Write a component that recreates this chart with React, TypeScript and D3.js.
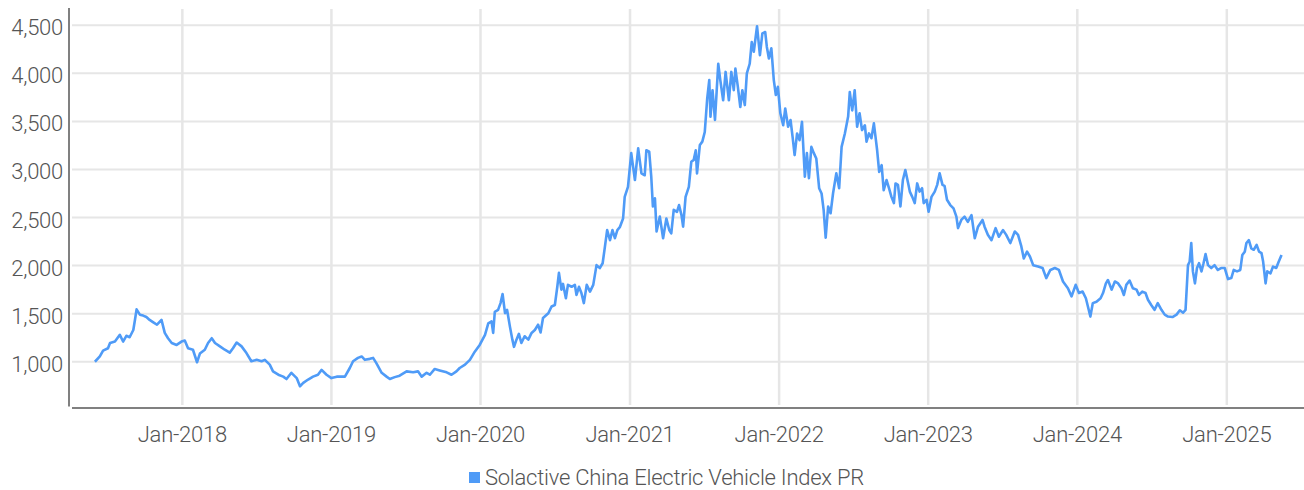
import * as d3 from "d3";

// index levels, roughly every week or two
const dates = [
  "2017-06-01", "2017-06-13", "2017-06-21", "2017-07-03", "2017-07-08", "2017-07-20", "2017-08-01", "2017-08-09",
  "2017-08-17", "2017-08-25", "2017-09-03", "2017-09-07", "2017-09-11", "2017-09-19", "2017-09-27", "2017-10-05",
  "2017-10-13", "2017-10-22", "2017-10-31", "2017-11-11", "2017-11-19", "2017-11-27", "2017-12-06", "2017-12-18",
  "2017-12-30",
  "2018-01-07", "2018-01-15", "2018-01-27", "2018-02-06", "2018-02-13", "2018-02-25", "2018-03-05", "2018-03-14",
  "2018-03-22", "2018-04-03", "2018-04-15", "2018-04-27", "2018-05-05", "2018-05-14", "2018-05-26", "2018-06-07",
  "2018-06-19", "2018-07-02", "2018-07-14", "2018-07-22", "2018-08-03", "2018-08-11", "2018-08-24", "2018-09-05",
  "2018-09-13", "2018-09-25", "2018-10-08", "2018-10-16", "2018-10-24", "2018-11-05", "2018-11-17", "2018-11-29",
  "2018-12-08", "2018-12-20",
  "2019-01-01", "2019-01-14", "2019-02-03", "2019-02-15", "2019-02-23", "2019-03-07", "2019-03-16", "2019-03-24",
  "2019-04-05", "2019-04-13", "2019-04-21", "2019-05-04", "2019-05-16", "2019-05-24", "2019-06-05", "2019-06-17",
  "2019-07-04", "2019-07-20", "2019-08-01", "2019-08-10", "2019-08-22", "2019-08-30", "2019-09-11", "2019-09-23",
  "2019-10-10", "2019-10-22", "2019-11-03", "2019-11-11", "2019-11-24", "2019-12-06", "2019-12-18", "2019-12-30",
  "2020-01-12", "2020-01-20", "2020-01-28", "2020-02-01", "2020-02-05", "2020-02-13", "2020-02-19", "2020-02-24",
  "2020-03-01", "2020-03-06", "2020-03-13", "2020-03-19", "2020-03-23", "2020-03-29", "2020-04-04", "2020-04-10",
  "2020-04-18", "2020-04-27", "2020-05-05", "2020-05-13", "2020-05-21", "2020-05-27", "2020-06-02", "2020-06-15",
  "2020-06-23", "2020-07-01", "2020-07-07", "2020-07-11", "2020-07-17", "2020-07-21", "2020-07-28", "2020-08-02",
  "2020-08-11", "2020-08-19", "2020-08-23", "2020-08-29", "2020-09-04", "2020-09-10", "2020-09-17", "2020-09-25",
  "2020-10-03", "2020-10-11", "2020-10-19", "2020-10-26", "2020-10-31", "2020-11-06", "2020-11-13", "2020-11-19",
  "2020-11-25", "2020-12-01", "2020-12-07", "2020-12-15", "2020-12-19", "2020-12-27",
  "2021-01-04", "2021-01-13", "2021-01-21", "2021-01-29", "2021-02-06", "2021-02-10", "2021-02-17", "2021-02-22",
  "2021-02-26", "2021-03-03", "2021-03-07", "2021-03-15", "2021-03-23", "2021-03-31", "2021-04-07", "2021-04-12",
  "2021-04-18", "2021-04-26", "2021-05-01", "2021-05-07", "2021-05-11", "2021-05-17", "2021-05-25", "2021-05-31",
  "2021-06-06", "2021-06-11", "2021-06-14", "2021-06-21", "2021-06-27", "2021-07-03", "2021-07-09", "2021-07-14",
  "2021-07-17", "2021-07-22", "2021-07-28", "2021-08-01", "2021-08-05", "2021-08-10", "2021-08-17", "2021-08-23",
  "2021-08-31", "2021-09-06", "2021-09-12", "2021-09-16", "2021-09-22", "2021-09-28", "2021-10-03", "2021-10-09",
  "2021-10-14", "2021-10-21", "2021-10-26", "2021-10-31", "2021-11-08", "2021-11-15", "2021-11-21", "2021-11-28",
  "2021-12-02", "2021-12-07", "2021-12-13", "2021-12-19", "2021-12-24", "2021-12-29",
  "2022-01-04", "2022-01-11", "2022-01-16", "2022-01-23", "2022-01-29", "2022-02-03", "2022-02-08", "2022-02-14",
  "2022-02-20", "2022-02-26", "2022-03-05", "2022-03-10", "2022-03-15", "2022-03-21", "2022-03-27", "2022-04-02",
  "2022-04-09", "2022-04-15", "2022-04-20", "2022-04-25", "2022-05-01", "2022-05-07", "2022-05-13", "2022-05-21",
  "2022-05-28", "2022-06-03", "2022-06-11", "2022-06-19", "2022-06-23", "2022-06-29", "2022-07-05", "2022-07-11",
  "2022-07-17", "2022-07-23", "2022-07-30", "2022-08-03", "2022-08-09", "2022-08-15", "2022-08-21", "2022-08-26",
  "2022-08-29", "2022-09-03", "2022-09-09", "2022-09-14", "2022-09-21", "2022-09-27", "2022-10-03", "2022-10-09",
  "2022-10-13", "2022-10-19", "2022-10-25", "2022-10-31", "2022-11-06", "2022-11-13", "2022-11-17", "2022-11-23",
  "2022-11-29", "2022-12-05", "2022-12-11", "2022-12-17", "2022-12-21", "2022-12-28",
  "2023-01-02", "2023-01-09", "2023-01-17", "2023-01-23", "2023-01-29", "2023-02-05", "2023-02-10", "2023-02-16",
  "2023-02-24", "2023-03-04", "2023-03-11", "2023-03-15", "2023-03-23", "2023-03-31", "2023-04-08", "2023-04-17",
  "2023-04-25", "2023-05-03", "2023-05-14", "2023-05-19", "2023-05-27", "2023-06-05", "2023-06-15", "2023-06-23",
  "2023-07-03", "2023-07-11", "2023-07-21", "2023-08-01", "2023-08-09", "2023-08-17", "2023-08-23", "2023-08-31",
  "2023-09-07", "2023-09-15", "2023-09-27", "2023-10-08", "2023-10-17", "2023-10-27", "2023-11-07", "2023-11-17",
  "2023-11-27", "2023-12-09", "2023-12-18", "2023-12-28",
  "2024-01-05", "2024-01-14", "2024-01-22", "2024-01-27", "2024-02-02", "2024-02-08", "2024-02-17", "2024-02-27",
  "2024-03-04", "2024-03-11", "2024-03-16", "2024-03-25", "2024-04-02", "2024-04-10", "2024-04-18", "2024-04-24",
  "2024-04-30", "2024-05-08", "2024-05-16", "2024-05-25", "2024-05-31", "2024-06-08", "2024-06-16", "2024-06-22",
  "2024-06-30", "2024-07-08", "2024-07-16", "2024-07-25", "2024-08-02", "2024-08-10", "2024-08-21", "2024-08-31",
  "2024-09-08", "2024-09-16", "2024-09-22", "2024-09-28", "2024-10-02", "2024-10-06", "2024-10-10", "2024-10-15",
  "2024-10-20", "2024-10-25", "2024-10-31", "2024-11-05", "2024-11-10", "2024-11-16", "2024-11-24", "2024-12-02",
  "2024-12-10", "2024-12-18", "2024-12-27",
  "2025-01-04", "2025-01-12", "2025-01-18", "2025-01-26", "2025-02-03", "2025-02-08", "2025-02-14", "2025-02-18",
  "2025-02-24", "2025-03-02", "2025-03-08", "2025-03-15", "2025-03-21", "2025-03-27", "2025-03-31", "2025-04-06",
  "2025-04-10", "2025-04-18", "2025-04-24", "2025-05-02", "2025-05-08", "2025-05-15",
];

const values = [
  1000, 1055, 1115, 1140, 1195, 1210, 1280, 1210, 1270, 1255, 1330, 1435, 1545, 1490, 1480, 1465,
  1435, 1410, 1385, 1435, 1300, 1245, 1195, 1175, 1210,
  1220, 1140, 1125, 995, 1085, 1125, 1195, 1245, 1195, 1160, 1125, 1095, 1140, 1200, 1160, 1090,
  1005, 1020, 1005, 1020, 970, 900, 865, 845, 820, 885, 830, 745, 780, 815, 845, 865, 915, 865,
  830, 845, 845, 935, 1005, 1040, 1055, 1020, 1030, 1040, 985, 885, 845, 820, 840, 855,
  900, 890, 900, 845, 885, 865, 925, 910, 890, 865, 900, 935, 970, 1020, 1105, 1175,
  1280, 1400, 1420, 1300, 1520, 1540, 1610, 1705, 1505, 1540, 1365, 1230, 1155, 1230, 1290, 1195,
  1265, 1230, 1300, 1330, 1385, 1305, 1455, 1505, 1575, 1590, 1780, 1925, 1750, 1810, 1660, 1800,
  1780, 1800, 1695, 1780, 1715, 1610, 1800, 1730, 1800, 2005, 1975, 2025, 2180, 2370, 2265, 2370,
  2285, 2370, 2400, 2490, 2715, 2820,
  3170, 2890, 3220, 2960, 2940, 3200, 3185, 2925, 2615, 2700, 2355, 2510, 2285, 2490, 2370, 2335,
  2580, 2560, 2630, 2525, 2405, 2715, 2820, 3080, 3100, 3200, 2960, 3255, 3290, 3390, 3740, 3930,
  3550, 3825, 3515, 3805, 4100, 3930, 3720, 4015, 3720, 4015, 3825, 4050, 3860, 3650, 3825, 3670,
  4000, 4100, 4325, 4225, 4490, 4190, 4415, 4430, 4275, 4155, 4260, 3930, 3775, 3860,
  3585, 3460, 3635, 3445, 3515, 3340, 3150, 3375, 3305, 3495, 2925, 3170, 2910, 3235, 3170, 3115,
  2805, 2750, 2580, 2290, 2615, 2545, 2750, 2960, 2805, 3235, 3375, 3550, 3805, 3615, 3825, 3445,
  3585, 3410, 3460, 3290, 3375, 3325, 3480, 3305, 3200, 2975, 3045, 2785, 2890, 2805, 2715, 2650,
  2855, 2840, 2615, 2890, 2995, 2855, 2770, 2715, 2650, 2855, 2770, 2805, 2650, 2685,
  2560, 2715, 2770, 2840, 2960, 2840, 2830, 2685, 2630, 2595, 2510, 2390, 2475, 2510, 2455, 2525,
  2285, 2405, 2475, 2405, 2320, 2265, 2390, 2300, 2370, 2320, 2235, 2355, 2320, 2200, 2075, 2145,
  2095, 2005, 1990, 1975, 1870, 1955, 1975, 1955, 1835, 1765, 1680, 1800,
  1715, 1730, 1660, 1575, 1470, 1610, 1625, 1660, 1715, 1815, 1850, 1750, 1835, 1815, 1765, 1695,
  1800, 1845, 1765, 1750, 1695, 1730, 1715, 1645, 1590, 1540, 1610, 1540, 1490, 1470, 1465, 1490,
  1535, 1510, 1540, 2005, 2040, 2235, 1940, 1815, 1975, 2025, 1940, 2025, 2120, 2005, 1975, 2005,
  1955, 1975, 1975,
  1860, 1870, 1955, 1940, 1955, 2110, 2145, 2235, 2265, 2180, 2165, 2215, 2145, 2130, 2040, 1815,
  1940, 1920, 1990, 1975, 2040, 2110,
];

const yTicks = [1000, 1500, 2000, 2500, 3000, 3500, 4000, 4500];
const xTickYears = [2018, 2019, 2020, 2021, 2022, 2023, 2024, 2025];
const seriesName = "Solactive China Electric Vehicle Index PR";

const width = 1304;
const height = 490;
const margin = { top: 8, right: 0, bottom: 85, left: 70 };

const lineColor = "#4f9bf7";
const gridColor = "#e6e6e6";
const axisColor = "#808080";
const textColor = "#555555";
const font = { fontFamily: "Roboto, sans-serif", fontWeight: 300, fontSize: 22, letterSpacing: -0.25 };

export default function App() {
  const parse = d3.timeParse("%Y-%m-%d");
  const points = dates.map((d, i) => ({ date: parse(d) as Date, value: values[i] }));

  const plotBottom = height - margin.bottom;
  const x = d3
    .scaleTime()
    .domain([new Date(2017, 3, 1), new Date(2025, 6, 9)])
    .range([margin.left, width - margin.right]);
  const y = d3.scaleLinear().domain([550, 4680]).range([plotBottom, margin.top]);

  const line = d3
    .line<{ date: Date; value: number }>()
    .x((d) => x(d.date))
    .y((d) => y(d.value));

  const fmt = d3.timeFormat("%b-%Y");
  const xTicks = xTickYears.map((yr) => new Date(yr, 0, 1));
  const fmtY = d3.format(",");

  return (
    <svg width={width} height={height} style={{ position: "absolute", left: 0, top: 0, background: "#fff" }}>
      {/* gridlines */}
      {yTicks.map((t) => (
        <line key={"gy" + t} x1={margin.left + 2} x2={width} y1={y(t)} y2={y(t)} stroke={gridColor} strokeWidth={2} />
      ))}
      {xTicks.map((t) => (
        <line key={"gx" + t.getTime()} x1={x(t)} x2={x(t)} y1={margin.top + 1} y2={plotBottom} stroke={gridColor} strokeWidth={2.5} />
      ))}

      {/* axes */}
      <line x1={margin.left - 1} x2={margin.left - 1} y1={margin.top} y2={plotBottom + 1.5} stroke={axisColor} strokeWidth={2} />
      <line x1={margin.left + 2} x2={width} y1={plotBottom + 3} y2={plotBottom + 3} stroke={axisColor} strokeWidth={2} />

      {/* series */}
      <path d={line(points) ?? ""} fill="none" stroke={lineColor} strokeWidth={2.6} strokeLinejoin="round" />

      {/* y labels */}
      {yTicks.map((t) => (
        <text key={"ly" + t} x={margin.left - 7} y={y(t) + 10} textAnchor="end" fill={textColor} style={font}>
          {fmtY(t)}
        </text>
      ))}

      {/* x labels */}
      {xTicks.map((t) => (
        <text key={"lx" + t.getTime()} x={x(t)} y={441.5} textAnchor="middle" fill={textColor} style={font}>
          {fmt(t)}
        </text>
      ))}

      {/* legend */}
      <rect x={469} y={472} width={11} height={11} fill={lineColor} />
      <text x={485} y={485} fill={textColor} style={font}>
        {seriesName}
      </text>
    </svg>
  );
}
